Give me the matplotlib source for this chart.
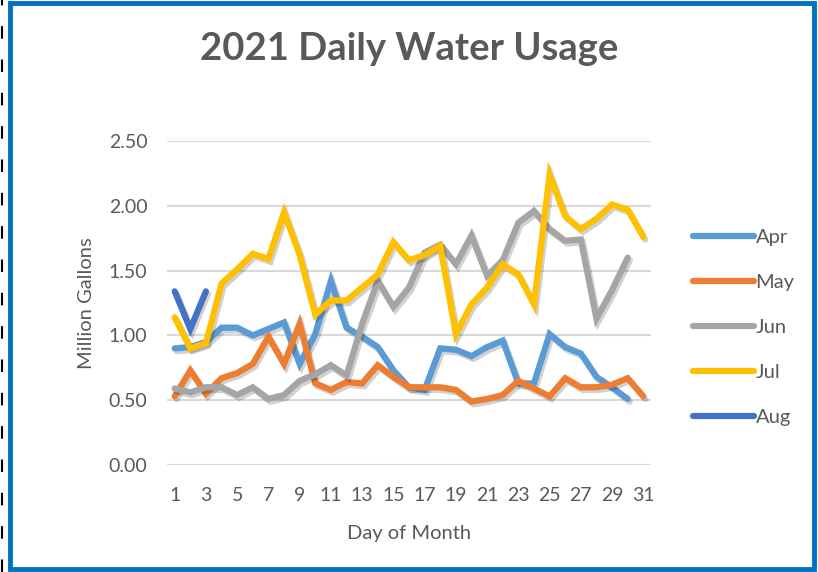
import matplotlib
matplotlib.use("Agg")
import matplotlib.pyplot as plt
import matplotlib.patheffects as pe
from matplotlib.patches import Rectangle
from matplotlib.lines import Line2D

plt.rcParams['font.family'] = ['Lato', 'DejaVu Sans']

# daily usage in million gallons
apr = [0.90, 0.91, 0.95, 1.06, 1.06, 1.00, 1.05, 1.10, 0.78, 1.01,
       1.42, 1.06, 0.99, 0.91, 0.73, 0.60, 0.58, 0.90, 0.89, 0.84,
       0.91, 0.96, 0.63, 0.63, 1.01, 0.91, 0.86, 0.68, 0.60, 0.51]
may = [0.53, 0.73, 0.55, 0.67, 0.71, 0.78, 0.99, 0.78, 1.09, 0.63,
       0.58, 0.64, 0.63, 0.77, 0.68, 0.60, 0.60, 0.60, 0.58, 0.49,
       0.51, 0.54, 0.65, 0.59, 0.53, 0.67, 0.60, 0.60, 0.62, 0.67, 0.53]
jun = [0.59, 0.56, 0.60, 0.60, 0.54, 0.60, 0.51, 0.54, 0.65, 0.70,
       0.77, 0.69, 1.09, 1.42, 1.22, 1.37, 1.64, 1.70, 1.55, 1.77,
       1.46, 1.58, 1.87, 1.96, 1.82, 1.73, 1.74, 1.13, 1.35, 1.60]
jul = [1.14, 0.90, 0.94, 1.40, 1.51, 1.63, 1.59, 1.95, 1.62, 1.16,
       1.27, 1.27, 1.37, 1.47, 1.72, 1.58, 1.62, 1.69, 1.01, 1.24,
       1.37, 1.55, 1.47, 1.24, 2.24, 1.92, 1.82, 1.90, 2.01, 1.97, 1.76]
aug = [1.34, 1.05, 1.34]

months = ['Apr', 'May', 'Jun', 'Jul', 'Aug']
series = [apr, may, jun, jul, aug]
colors = ['#5B9BD5', '#ED7D31', '#A5A5A5', '#FFC000', '#4472C4']
xticks = list(range(1, 32, 2))
yticks = [0.0, 0.5, 1.0, 1.5, 2.0, 2.5]

text_col = '#595959'

fig = plt.figure(figsize=(8.18, 5.72), dpi=100)
ax = fig.add_axes([0.204, 0.187, 0.592, 0.5665])

shadow = [pe.SimpleLineShadow(offset=(1.5, -2), alpha=0.18, shadow_color='black'),
          pe.Normal()]
handles = []
for name, vals, c in zip(months, series, colors):
    days = list(range(1, len(vals) + 1))
    ax.plot(days, vals, color=c, lw=4.5, solid_capstyle='round',
            solid_joinstyle='miter', path_effects=shadow, zorder=3)
    handles.append(Line2D([], [], color=c, lw=4.5, solid_capstyle='round'))

ax.set_xlim(0.5, 31.5)
ax.set_ylim(0, 2.5)
ax.set_xticks(xticks)
ax.set_yticks(yticks)
ax.set_yticklabels([f'{v:.2f}' for v in yticks])
ax.yaxis.grid(True, color='#D9D9D9', lw=1.5)
ax.set_axisbelow(True)
for s in ax.spines.values():
    s.set_visible(False)
ax.tick_params(length=0, labelsize=14, colors=text_col)
ax.tick_params(axis='x', pad=16)
ax.tick_params(axis='y', pad=14)
ax.set_xlabel('Day of Month', fontsize=14.5, color=text_col, labelpad=15)
ax.set_ylabel('Million Gallons', fontsize=14.5, color=text_col, labelpad=10)

fig.text(0.5, 0.915, '2021 Daily Water Usage', ha='center', va='center',
         fontsize=27.5, fontweight='bold', color=text_col)

fig.legend(handles, months, loc='upper left', bbox_to_anchor=(0.835, 0.618),
           frameon=False, fontsize=14.5, labelcolor=text_col,
           handlelength=3.0, handletextpad=0.1, labelspacing=1.39,
           borderpad=0)

# blue frame around the chart
fig.add_artist(Rectangle((0.012, 0.006), 0.983, 0.989, transform=fig.transFigure,
                         fill=False, edgecolor='#0070C0', lw=3.5))
fig.add_artist(Line2D([0.002, 0.002], [0.0, 1.0], transform=fig.transFigure,
                      color='black', lw=1.5, ls=(0, (6, 10))))

fig.savefig('out.png', dpi=100)
